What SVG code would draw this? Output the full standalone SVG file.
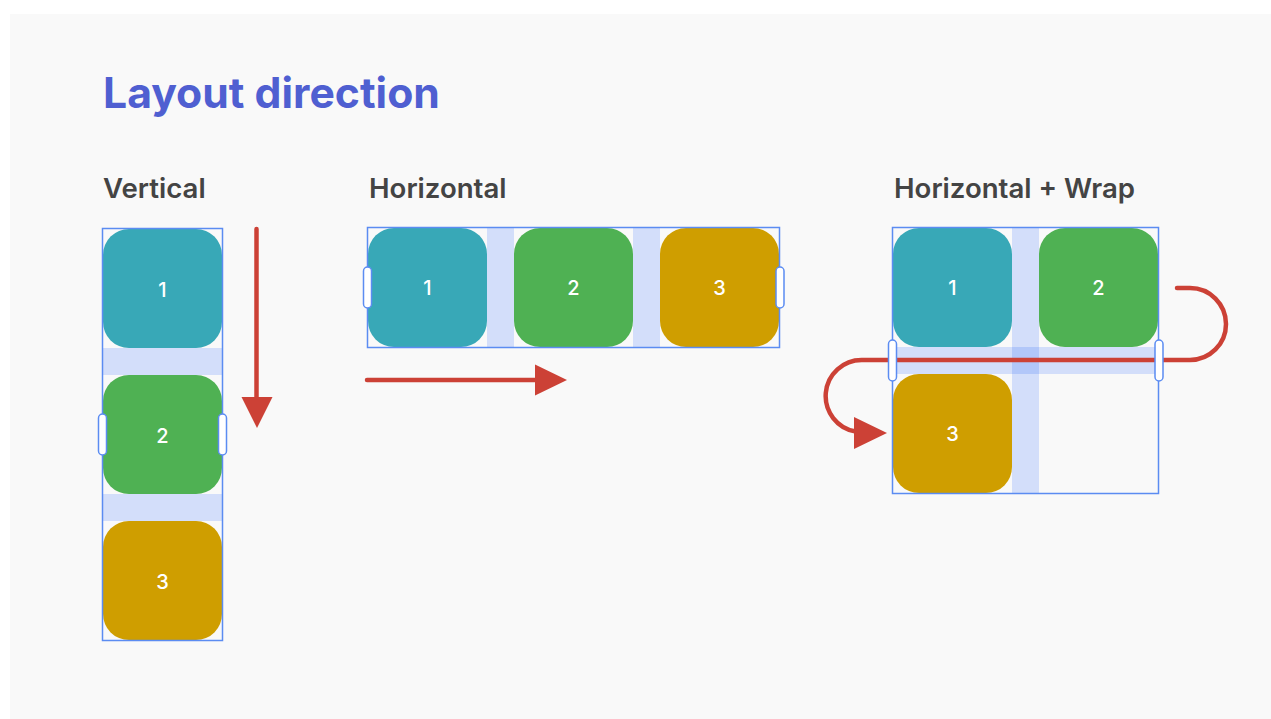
<svg xmlns="http://www.w3.org/2000/svg" width="1271" height="719" viewBox="0 0 1271 719">
<style>
.title{font-family:Inter,"Noto Sans","Liberation Sans",sans-serif;font-weight:700;font-size:42.7px;fill:#4f5fd1}
.sub{font-family:Inter,"Noto Sans","Liberation Sans",sans-serif;font-weight:600;font-size:27.6px;fill:#444444}
.num{font-family:Inter,"Noto Sans","Liberation Sans",sans-serif;font-weight:500;font-size:20px;fill:#ffffff;text-anchor:middle}
.frame{fill:none;stroke:#5b8cf2;stroke-width:1.5}
.gap{fill:#d3defa}
.ov{fill:#b2c7f9}
.handle{fill:#ffffff;stroke:#5b8cf2;stroke-width:1.5}
.c1{fill:#38a8b7}
.c2{fill:#4fb153}
.c3{fill:#cf9e00}
.flow{fill:none;stroke:#cc4136;stroke-width:4.5;stroke-linecap:round}
.head{fill:#cc4136}
</style>
<rect x="0" y="0" width="1271" height="719" fill="#ffffff"/>
<rect x="10" y="14" width="1261" height="705" fill="#f9f9f9"/>
<text class="title" x="103" y="108">Layout direction</text>

<g id="vertical">
<text class="sub" x="103" y="198">Vertical</text>
<rect class="gap" x="103" y="348" width="119" height="27"/>
<rect class="gap" x="103" y="494" width="119" height="27"/>
<g id="v1"><rect class="c1" x="103" y="229" width="119" height="119" rx="26"/><text class="num" x="162.5" y="297">1</text></g>
<g id="v2"><rect class="c2" x="103" y="375" width="119" height="119" rx="26"/><text class="num" x="162.5" y="443">2</text></g>
<g id="v3"><rect class="c3" x="103" y="521" width="119" height="119" rx="26"/><text class="num" x="162.5" y="589">3</text></g>
<rect class="frame" x="102.5" y="228.5" width="120" height="412"/>
<rect class="handle" x="98.5" y="414" width="8" height="41" rx="4"/>
<rect class="handle" x="218.5" y="414" width="8" height="41" rx="4"/>
</g>

<g id="horizontal">
<text class="sub" x="369" y="198">Horizontal</text>
<rect class="gap" x="487" y="228" width="27" height="119"/>
<rect class="gap" x="633" y="228" width="27" height="119"/>
<g id="h1"><rect class="c1" x="368" y="228" width="119" height="119" rx="26"/><text class="num" x="427.5" y="295">1</text></g>
<g id="h2"><rect class="c2" x="514" y="228" width="119" height="119" rx="26"/><text class="num" x="573.5" y="295">2</text></g>
<g id="h3"><rect class="c3" x="660" y="228" width="119" height="119" rx="26"/><text class="num" x="719.5" y="295">3</text></g>
<rect class="frame" x="367.5" y="227.5" width="412" height="120"/>
<rect class="handle" x="363.5" y="267" width="8" height="41" rx="4"/>
<rect class="handle" x="776" y="267" width="8" height="41" rx="4"/>
</g>

<g id="wrap">
<text class="sub" x="894" y="198">Horizontal + Wrap</text>
<rect class="gap" x="1012" y="228" width="27" height="266"/>
<rect class="gap" x="893" y="347" width="265" height="27"/>
<rect class="ov" x="1012" y="347" width="27" height="27"/>
<g id="w1"><rect class="c1" x="893" y="228" width="119" height="119" rx="26"/><text class="num" x="952.5" y="295">1</text></g>
<g id="w2"><rect class="c2" x="1039" y="228" width="119" height="119" rx="26"/><text class="num" x="1098.5" y="295">2</text></g>
<g id="w3"><rect class="c3" x="893" y="374" width="119" height="119" rx="26"/><text class="num" x="952.5" y="441">3</text></g>
<rect class="frame" x="892.5" y="227.5" width="266" height="266"/>
</g>

<g id="connectors">
<line class="flow" x1="256.5" y1="229" x2="256.5" y2="400"/>
<polygon class="head" points="241.5,397 272.5,397 257,428"/>
<line class="flow" x1="367" y1="380" x2="540" y2="380"/>
<polygon class="head" points="535,364.5 535,395.5 567,380"/>
<path class="flow" d="M1177,288 H1190 A36,36 0 0 1 1190,360 H862 A36,36 0 0 0 855.7,431.5"/>
<polygon class="head" points="854,417 854,449 887,433"/>
</g>
<g id="wrap-handles">
<rect class="handle" x="888.5" y="340" width="8" height="41" rx="4"/>
<rect class="handle" x="1155" y="340" width="8" height="41" rx="4"/>
</g>
</svg>
